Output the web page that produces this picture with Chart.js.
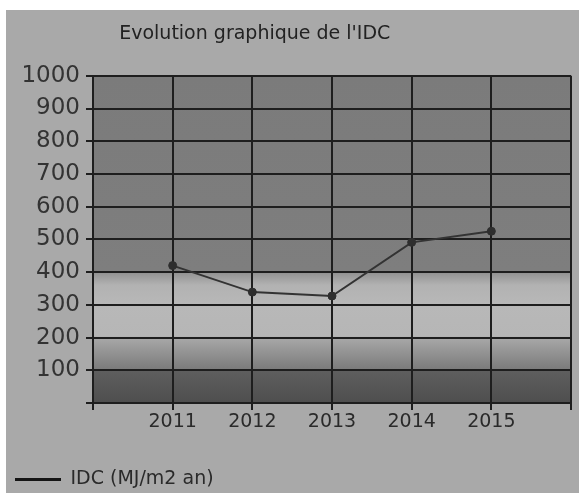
<!DOCTYPE html>
<html>
<head>
<meta charset="utf-8">
<script src="https://cdn.jsdelivr.net/npm/chart.js@4/dist/chart.umd.min.js"></script>
<style>
  html, body { margin: 0; padding: 0; background: #fff; }
  #wrap { position: absolute; left: 6px; top: 10px; width: 573px; height: 483px; background: #a9a9a9; }
</style>
</head>
<body>
<div id="wrap"><canvas id="idcChart"></canvas></div>
<script>
// IDC values
const years = [2011, 2012, 2013, 2014, 2015];
const idc = [420, 339, 327, 491, 525];
const yTicks = [0, 100, 200, 300, 400, 500, 600, 700, 800, 900, 1000];

// plot background: dark top, light band under 400, darker bands below 200
const bgStops = [
  [1000, '#7b7b7b'], [405, '#7e7e7e'], [395, '#959595'], [360, '#b2b2b2'],
  [300, '#b8b8b8'], [205, '#b6b6b6'], [195, '#a6a6a6'], [105, '#7c7c7c'],
  [98, '#5e5e5e'], [0, '#4e4e4e']
];

const plotBg = {
  id: 'plotBg',
  beforeDraw(chart) {
    const { ctx, chartArea: a, scales: { y } } = chart;
    const g = ctx.createLinearGradient(0, a.top, 0, a.bottom);
    bgStops.forEach(([v, c]) => {
      const f = (y.getPixelForValue(v) - a.top) / (a.bottom - a.top);
      g.addColorStop(Math.min(1, Math.max(0, f)), c);
    });
    ctx.save();
    ctx.fillStyle = g;
    ctx.fillRect(a.left, a.top, a.right - a.left, a.bottom - a.top);
    ctx.restore();
  }
};

const defaultLabels = Chart.defaults.plugins.legend.labels.generateLabels;

const ctx = document.getElementById('idcChart').getContext('2d');
new Chart(ctx, {
  type: 'line',
  data: {
    datasets: [{
      label: 'IDC (MJ/m2 an)',
      data: years.map((yr, i) => ({ x: yr, y: idc[i] })),
      borderColor: '#333',
      backgroundColor: '#2e2e2e',
      borderWidth: 2,
      pointRadius: 4,
      pointBackgroundColor: '#2e2e2e',
      pointBorderColor: '#2e2e2e',
      pointBorderWidth: 1,
      tension: 0
    }]
  },
  options: {
    responsive: true,
    maintainAspectRatio: false,
    animation: false,
    layout: { padding: { left: 5, right: 8, top: 0, bottom: -6 } },
    plugins: {
      title: {
        display: true,
        text: "Evolution graphique de l'IDC" + '\u00a0'.repeat(12),
        color: '#222',
        font: { family: 'DejaVu Sans', size: 19, weight: 'normal' },
        padding: { top: 13, bottom: 30 }
      },
      legend: {
        position: 'bottom',
        align: 'start',
        labels: {
          color: '#2a2a2a',
          font: { family: 'DejaVu Sans', size: 19 },
          usePointStyle: true,
          pointStyle: 'line',
          pointStyleWidth: 46,
          padding: 4,
          generateLabels: chart => defaultLabels(chart).map(l => ({ ...l, lineWidth: 3, strokeStyle: '#151515' }))
        }
      },
      tooltip: { enabled: false }
    },
    scales: {
      x: {
        type: 'linear',
        min: 2010,
        max: 2016,
        afterFit: s => { s.height = 63; },
        ticks: {
          stepSize: 1,
          color: '#2a2a2a',
          padding: 1,
          font: { family: 'DejaVu Sans', size: 19 },
          callback: v => (years.includes(v) ? String(v) : '')
        },
        grid: { color: '#1e1e1e', lineWidth: 2, tickLength: 7, tickColor: '#1e1e1e' },
        border: { color: '#1e1e1e', width: 2 }
      },
      y: {
        min: 0,
        max: 1000,
        afterBuildTicks: s => { s.ticks = yTicks.map(v => ({ value: v })); },
        afterFit: s => { s.width = 82; },
        ticks: {
          color: '#333',
          padding: 6,
          font: { family: 'DejaVu Sans', size: 23 },
          callback: v => (v === 0 ? '' : String(v))
        },
        grid: { color: '#1e1e1e', lineWidth: 2, tickLength: 7, tickColor: '#1e1e1e' },
        border: { color: '#1e1e1e', width: 2 }
      }
    }
  },
  plugins: [plotBg]
});
</script>
</body>
</html>
